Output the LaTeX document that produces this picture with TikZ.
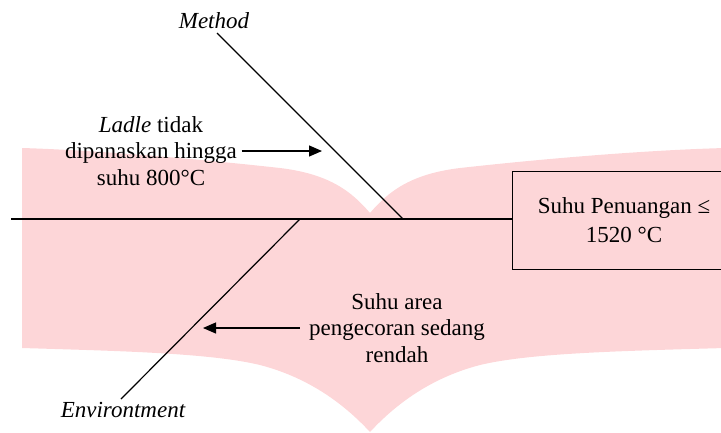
\documentclass[tikz,border=0pt]{standalone}
\usepackage{fontspec}
\setmainfont{Liberation Serif}
\usetikzlibrary{arrows.meta}
\definecolor{bookpink}{RGB}{253,214,216}
\begin{document}
\begin{tikzpicture}[x=1pt,y=-1pt,line width=1.2pt,
  lbl/.style={font=\fontsize{23}{26.5}\selectfont,align=center,inner sep=0pt},
  boxlbl/.style={font=\fontsize{23}{29}\selectfont,align=center,draw,line width=0.9pt,
    minimum width=224pt,minimum height=98pt,inner sep=0pt},
  arr/.style={-{Triangle[length=13pt,width=11pt]}}]
\useasboundingbox (0,0) rectangle (721,432);
% book-shaped watermark
\fill[bookpink] (22,148) .. controls (90,150) and (190,158) .. (280,168)
  .. controls (330,174) and (352,192) .. (370,213)
  .. controls (388,192) and (410,174) .. (460,168)
  .. controls (550,158) and (650,150) .. (725,148)
  -- (725,348)
  .. controls (620,351) and (530,353) .. (480,365)
  .. controls (430,378) and (395,405) .. (370,432)
  .. controls (345,405) and (310,378) .. (260,365)
  .. controls (210,353) and (120,351) .. (22,348) -- cycle;
% nodes
\node[boxlbl] (box) at (624,220) {Suhu Penuangan ≤\\1520 °C};
\node[lbl,font=\fontsize{23}{26.5}\selectfont\itshape] (method) at (214,21) {Method};
\node[lbl,font=\fontsize{23}{26.5}\selectfont\itshape] (env) at (123,410) {Environtment};
\node[lbl] (ladle) at (151,151) {\textit{Ladle} tidak\\dipanaskan hingga\\suhu 800°C};
\node[lbl] (suhu) at (397,328) {Suhu area\\pengecoran sedang\\rendah};
% coordinates
\coordinate (spineL) at (11,219);
\coordinate (mTop) at (217,33);
\coordinate (mBot) at (403,219);
\coordinate (eTop) at (300,219);
\coordinate (eBot) at (121,399);
\coordinate (a1tip) at (322,151);
\coordinate (a2tip) at (203,328);
% connectors
\draw (spineL) -- (spineL -| box.west);
\draw (mTop) -- (mBot);
\draw (eBot) -- (eTop);
\draw[arr] ([xshift=4pt]ladle.east) -- (a1tip);
\draw[arr] ([xshift=-9pt]suhu.west) -- (a2tip);
\end{tikzpicture}
\end{document}
